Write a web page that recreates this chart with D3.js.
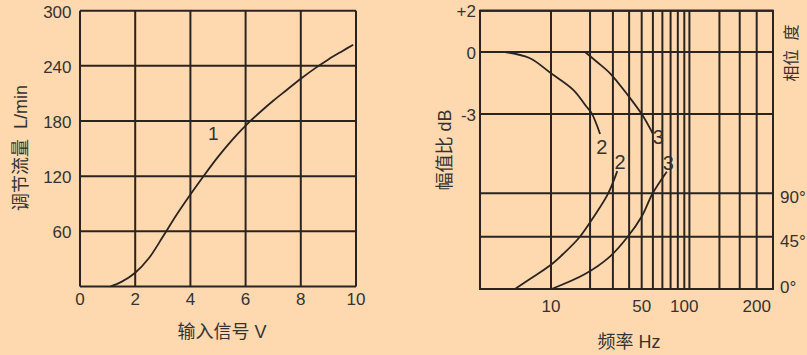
<!DOCTYPE html>
<html>
<head>
<meta charset="utf-8">
<script src="https://cdn.jsdelivr.net/npm/d3@7"></script>
<style>
  html, body { margin: 0; padding: 0; background: #fed9b0; }
  svg { display: block; }
  text { font-family: "Liberation Sans", Arial, "Noto Sans CJK SC", sans-serif; fill: #333; white-space: pre; }
</style>
</head>
<body>
<svg id="chart" width="807" height="355"></svg>
<script>
// ---------- Left chart data ----------
const voltTicks = [0, 2, 4, 6, 8, 10];
const flowTicks = [60, 120, 180, 240, 300];
const curve1Volt = [1.1, 1.5, 2, 2.5, 3, 3.5, 4, 4.5, 5, 5.5, 6, 6.5, 7, 7.5, 8, 8.5, 9, 9.5, 9.9];
const curve1Flow = [0, 5, 15, 31, 54, 78, 100, 121, 141, 159, 175, 189, 202, 214, 226, 237, 247, 256, 263];
const label1 = { text: "1", v: 4.83, q: 167 };

// ---------- Right chart data ----------
const freqTickValues = [10, 50, 100, 200];
const freqTickLabels = ["10", "50", "100", "200"];
const freqGrid = [10, 20, 30, 40, 50, 60, 70, 80, 90, 100, 105, 140, 170, 200];
const dbTicks = [2, 0, -3];
const dbTickLabels = ["+2", "0", "-3"];
const phaseTicks = [0, 45, 90];
const phaseTickLabels = ["0°", "45°", "90°"];

const amp2Freq = [4.6, 7.0, 10, 14.9, 18.8, 20.6, 23.9];
const amp2Db = [0, -0.3, -1.03, -1.84, -2.65, -2.97, -3.97];
const amp3Freq = [18.3, 22.5, 28.5, 39.0, 50.5, 59.8];
const amp3Db = [0, -0.47, -1.03, -2.08, -3.05, -3.94];
const ph2Freq = [5.43, 7.0, 10, 12.4, 16.7, 21.8, 27.6, 32.4];
const ph2Deg = [0, 8.6, 20.9, 30.1, 45, 67.5, 90, 113];
const ph3Freq = [10.1, 18.3, 28.0, 39.0, 50.0, 59.8, 75.2];
const ph3Deg = [0, 12.9, 27.2, 45, 66, 90, 112.4];

const curveLabels = [
  { text: "2", f: 24.6, db: -4.58 },
  { text: "3", f: 65.5, db: -4.10 },
  { text: "2", f: 34.0, deg: 122.8 },
  { text: "3", f: 77.1, deg: 121.1 }
];

// ---------- Drawing ----------
const ink = "#2a2421";
const svg = d3.select("#chart");
const smooth = d3.curveCatmullRom.alpha(0.5);

// Left chart
const L = { x0: 80, x1: 356, y0: 10.7, y1: 286.5 };
const xL = d3.scaleLinear().domain([0, 10]).range([L.x0, L.x1]);
const yL = d3.scaleLinear().domain([0, 300]).range([L.y1, L.y0]);
const gL = svg.append("g");

gL.selectAll("line.vg").data(voltTicks).join("line")
  .attr("x1", d => xL(d)).attr("x2", d => xL(d))
  .attr("y1", L.y0).attr("y2", L.y1)
  .attr("stroke", ink).attr("stroke-width", 2);
gL.selectAll("line.hg").data([0].concat(flowTicks)).join("line")
  .attr("class", "hg")
  .attr("x1", L.x0).attr("x2", L.x1)
  .attr("y1", d => yL(d)).attr("y2", d => yL(d))
  .attr("stroke", ink).attr("stroke-width", 2);

gL.selectAll("text.xt").data(voltTicks).join("text")
  .attr("class", "xt")
  .attr("x", d => xL(d)).attr("y", L.y1 + 18.5)
  .attr("text-anchor", "middle").attr("font-size", 17)
  .text(d => d);
gL.selectAll("text.yt").data(flowTicks).join("text")
  .attr("class", "yt")
  .attr("x", L.x0 - 8.5).attr("y", d => yL(d) + 7)
  .attr("text-anchor", "end").attr("font-size", 17)
  .text(d => d);

const pts1 = curve1Volt.map((v, i) => [xL(v), yL(curve1Flow[i])]);
gL.append("path").attr("d", d3.line().curve(smooth)(pts1))
  .attr("fill", "none").attr("stroke", ink).attr("stroke-width", 1.8);
gL.append("text").attr("x", xL(label1.v)).attr("y", yL(label1.q) + 7)
  .attr("text-anchor", "middle").attr("font-size", 19).text(label1.text);

gL.append("text").attr("x", 222).attr("y", 338)
  .attr("text-anchor", "middle").attr("font-size", 18).text("输入信号 V");
gL.append("text").attr("transform", "translate(27,148) rotate(-90)")
  .attr("text-anchor", "middle").attr("font-size", 18).text("调节流量  L/min");

// Right chart
const R = { x0: 480, x1: 773, y0: 10.7, y1: 289 };
const W = R.x1 - R.x0;
const xR = d3.scaleLog()
  .domain([3, 10, 50, 100, 200, 234])
  .range([R.x0, R.x0 + 71, R.x0 + 161.7, R.x0 + 204.3, R.x0 + 276.7, R.x1]);
const yDb = d3.scaleLinear().domain([2, -3]).range([R.y0, R.y0 + 103.3]);
const yPh = d3.scaleLinear().domain([0, 45, 90]).range([R.y1, R.y1 - 52.3, R.y1 - 95.7]);
const gR = svg.append("g");

gR.selectAll("line.vg").data(freqGrid).join("line")
  .attr("class", "vg")
  .attr("x1", d => xR(d)).attr("x2", d => xR(d))
  .attr("y1", R.y0).attr("y2", R.y1)
  .attr("stroke", ink).attr("stroke-width", 2);
gR.selectAll("line.hdb").data(dbTicks).join("line")
  .attr("class", "hdb")
  .attr("x1", R.x0).attr("x2", R.x1)
  .attr("y1", d => yDb(d)).attr("y2", d => yDb(d))
  .attr("stroke", ink).attr("stroke-width", 2);
gR.selectAll("line.hph").data(phaseTicks).join("line")
  .attr("class", "hph")
  .attr("x1", R.x0).attr("x2", R.x1)
  .attr("y1", d => yPh(d)).attr("y2", d => yPh(d))
  .attr("stroke", ink).attr("stroke-width", 2);
gR.append("rect").attr("x", R.x0).attr("y", R.y0)
  .attr("width", W).attr("height", R.y1 - R.y0)
  .attr("fill", "none").attr("stroke", ink).attr("stroke-width", 2);

gR.selectAll("text.xt").data(freqTickValues).join("text")
  .attr("class", "xt")
  .attr("x", d => xR(d)).attr("y", R.y1 + 23)
  .attr("text-anchor", "middle").attr("font-size", 17)
  .text((d, i) => freqTickLabels[i]);
gR.selectAll("text.dbt").data(dbTicks).join("text")
  .attr("class", "dbt")
  .attr("x", R.x0 - 4).attr("y", d => yDb(d) + 6.5)
  .attr("text-anchor", "end").attr("font-size", 17)
  .text((d, i) => dbTickLabels[i]);
gR.selectAll("text.pht").data(phaseTicks).join("text")
  .attr("class", "pht")
  .attr("x", R.x1 + 7).attr("y", d => yPh(d) + (d === 0 ? 4 : 10))
  .attr("font-size", 17)
  .text((d, i) => phaseTickLabels[i]);

const lineGen = d3.line().curve(smooth);
function drawCurve(fs, vs, yScale) {
  const pts = fs.map((f, i) => [xR(f), yScale(vs[i])]);
  gR.append("path").attr("d", lineGen(pts))
    .attr("fill", "none").attr("stroke", ink).attr("stroke-width", 1.8);
}
drawCurve(amp2Freq, amp2Db, yDb);
drawCurve(amp3Freq, amp3Db, yDb);
drawCurve(ph2Freq, ph2Deg, yPh);
drawCurve(ph3Freq, ph3Deg, yPh);

gR.selectAll("text.cl").data(curveLabels).join("text")
  .attr("class", "cl")
  .attr("x", d => xR(d.f))
  .attr("y", d => (d.db !== undefined ? yDb(d.db) : yPh(d.deg)) + 7)
  .attr("text-anchor", "middle").attr("font-size", 20)
  .text(d => d.text);

gR.append("text").attr("x", 629).attr("y", 348)
  .attr("text-anchor", "middle").attr("font-size", 18).text("频率 Hz");
gR.append("text").attr("transform", "translate(451,150) rotate(-90)")
  .attr("text-anchor", "middle").attr("font-size", 18).text("幅值比 dB");
gR.append("text").attr("transform", "translate(797,53) rotate(-90)")
  .attr("text-anchor", "middle").attr("font-size", 16).text("相位  度");
</script>
</body>
</html>
